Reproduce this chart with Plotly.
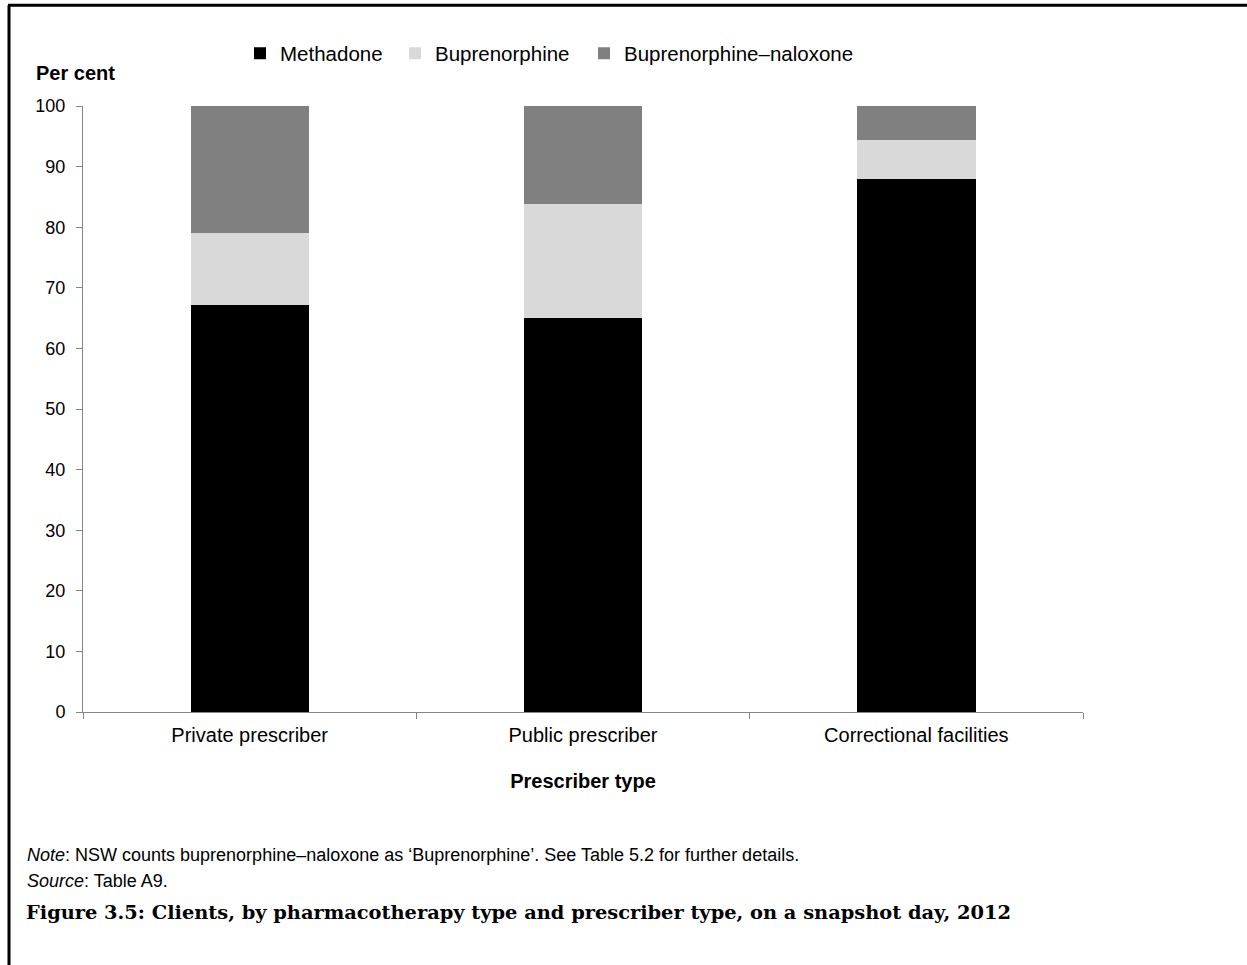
import plotly.graph_objects as go

categorias = ["Private prescriber", "Public prescriber", "Correctional facilities"]
metadona = [67.1, 65.0, 88.0]
buprenorfina = [11.9, 18.9, 6.4]
bupre_naloxona = [21.0, 16.1, 5.6]
ticks_y = [0, 10, 20, 30, 40, 50, 60, 70, 80, 90, 100]

W, H = 1247, 965
L, R, T, B = 83, 1083, 105.7, 712


def px_x(p):
    """converte pixel horizontal para coordenada paper"""
    return (p - L) / (R - L)


def px_y(p):
    """converte pixel vertical para coordenada paper"""
    return (B - p) / (B - T)


series = [("Methadone", metadona, "#000000", "legend", 278),
          ("Buprenorphine", buprenorfina, "#D9D9D9", "legend2", 433),
          ("Buprenorphine\u2013naloxone", bupre_naloxona, "#808080", "legend3", 622)]

fig = go.Figure()
for nome, valores, cor, leg, _ in series:
    fig.add_trace(go.Bar(x=categorias, y=valores, name=nome, legend=leg,
                         marker=dict(color=cor, line=dict(width=0))))

fonte = "Liberation Sans, Arial, sans-serif"

# uma legenda por série, para posicionar cada item como no original
legendas = {}
for _, _, _, leg, texto_x in series:
    legendas[leg] = dict(orientation="h", x=px_x(texto_x - 38), y=px_y(53),
                         xanchor="left", yanchor="middle", itemwidth=30,
                         font=dict(size=20.5), bgcolor="rgba(0,0,0,0)")

fig.update_layout(
    width=W, height=H,
    barmode="stack", bargap=0.645,
    plot_bgcolor="white", paper_bgcolor="white",
    margin=dict(l=L, r=W - R, t=T, b=H - B, autoexpand=False),
    font=dict(family=fonte, size=18, color="#000000"),
    showlegend=True,
    **legendas,
    xaxis=dict(showline=True, linecolor="#868686", linewidth=1,
               ticks="outside", tickson="boundaries", ticklen=6, tickcolor="#868686",
               showgrid=False, tickfont=dict(size=20), ticklabelstandoff=5,
               title=dict(text="<b>Prescriber type</b>", font=dict(size=20), standoff=28)),
    yaxis=dict(range=[0, 100], tickvals=ticks_y, showline=True, linecolor="#868686",
               linewidth=1, ticks="outside", ticklen=6, tickcolor="#868686",
               showgrid=False, zeroline=False, tickfont=dict(size=18),
               ticklabelstandoff=7),
)

fig.add_annotation(text="<b>Per cent</b>", xref="paper", yref="paper",
                   x=px_x(34), y=px_y(73), xanchor="left", yanchor="middle",
                   showarrow=False, font=dict(size=20))

fig.add_annotation(text="<i>Note</i>: NSW counts buprenorphine\u2013naloxone as \u2018Buprenorphine\u2019. "
                        "See Table 5.2 for further details.",
                   xref="paper", yref="paper", x=px_x(25), y=px_y(855),
                   xanchor="left", yanchor="middle", showarrow=False, font=dict(size=18))
fig.add_annotation(text="<i>Source</i>: Table A9.",
                   xref="paper", yref="paper", x=px_x(25), y=px_y(881),
                   xanchor="left", yanchor="middle", showarrow=False, font=dict(size=18))
fig.add_annotation(text="<b>Figure 3.5: Clients, by pharmacotherapy type and prescriber type, "
                        "on a snapshot day, 2012</b>",
                   xref="paper", yref="paper", x=px_x(24), y=px_y(913),
                   xanchor="left", yanchor="middle", showarrow=False,
                   font=dict(family="DejaVu Serif, serif", size=19.4))

# moldura da figura
fig.add_shape(type="line", xref="paper", yref="paper",
              x0=px_x(9), x1=px_x(9), y0=px_y(H + 5), y1=px_y(5),
              line=dict(color="black", width=3))
fig.add_shape(type="line", xref="paper", yref="paper",
              x0=px_x(8), x1=px_x(W + 5), y0=px_y(5), y1=px_y(5),
              line=dict(color="black", width=3))

fig.write_html("out.html", config={"displayModeBar": False},
               post_script="document.body.style.margin='0px';")
